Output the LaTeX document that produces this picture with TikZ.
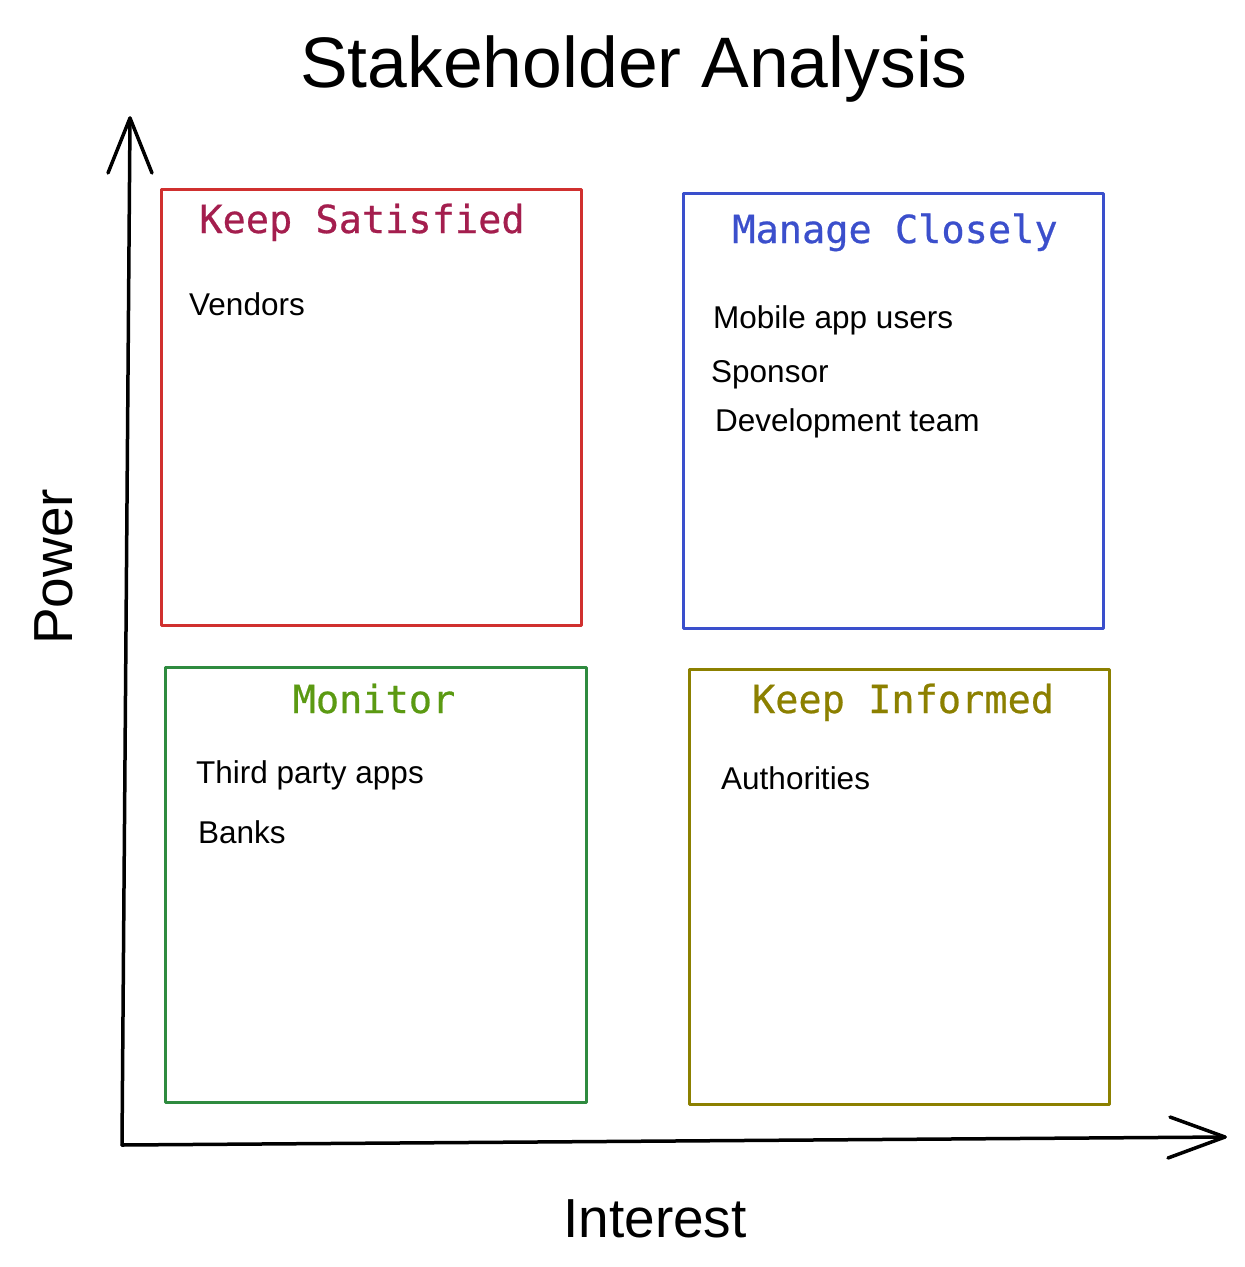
\documentclass[tikz,border=0pt]{standalone}
\usepackage{fontspec}
\setmainfont{Liberation Sans}
\newfontfamily\monof[FakeBold=0.6]{DejaVu Sans Mono}
\definecolor{redbox}{HTML}{D0302F}
\definecolor{redtxt}{HTML}{A41E4E}
\definecolor{bluebox}{HTML}{3A4FCC}
\definecolor{bluetxt}{HTML}{3B4FCC}
\definecolor{greenbox}{HTML}{2E8B3F}
\definecolor{greentxt}{HTML}{5B9A12}
\definecolor{olivebox}{HTML}{8C8000}
\definecolor{olivetxt}{HTML}{8C8000}
\tikzset{
  quad/.style={line width=3pt, line join=round},
  qtitle/.style={font=\monof\fontsize{38.6}{44}\selectfont, anchor=base, inner sep=0pt},
  item/.style={font=\fontsize{31.5}{36}\selectfont, anchor=base west, inner sep=0pt},
  axis/.style={line width=3.5pt, line cap=round, line join=round},
  big/.style={font=\fontsize{55}{62}\selectfont, anchor=base, inner sep=0pt}
}
\begin{document}
\begin{tikzpicture}[x=1pt,y=-1pt]
\useasboundingbox (0,0) rectangle (1245,1267);
\fill[white] (0,0) rectangle (1245,1267);
% title
\node[font=\fontsize{71.5}{80}\selectfont, anchor=base, inner sep=0pt] (title) at (634,87) {Stakeholder Analysis};
% axes
\coordinate (origin) at (122,1145);
\coordinate (ytip) at (130,118);
\coordinate (xtip) at (1225,1137);
\draw[axis] (origin) -- (ytip);
\draw[axis] (108,173) -- (ytip) -- (152,173);
\draw[axis] (origin) -- (xtip);
\draw[axis] (1170,1117) -- (xtip) -- (1168,1158);
\node[big] (interest) at (655,1237) {Interest};
\node[big, rotate=90] (power) at (72,567) {Power};
% boxes
\draw[quad, redbox] (161,189) rectangle (581,625);
\draw[quad, bluebox] (683,193) rectangle (1103,628);
\draw[quad, greenbox] (165,667) rectangle (586,1102);
\draw[quad, olivebox] (689,669) rectangle (1109,1104);
% titles
\node[qtitle, redtxt] (ks) at (362,233) {Keep Satisfied};
\node[qtitle, bluetxt] (mc) at (895,243) {Manage Closely};
\node[qtitle, greentxt] (mo) at (374,713) {Monitor};
\node[qtitle, olivetxt] (ki) at (903,713) {Keep Informed};
% items
\node[item] (vendors) at (189,315) {Vendors};
\node[item] (mobile) at (713,328) {Mobile app users};
\node[item] (sponsor) at (711,382) {Sponsor};
\node[item] (dev) at (715,431) {Development team};
\node[item] (third) at (196,783) {Third party apps};
\node[item] (banks) at (198,843) {Banks};
\node[item] (auth) at (721,789) {Authorities};
\end{tikzpicture}
\end{document}
